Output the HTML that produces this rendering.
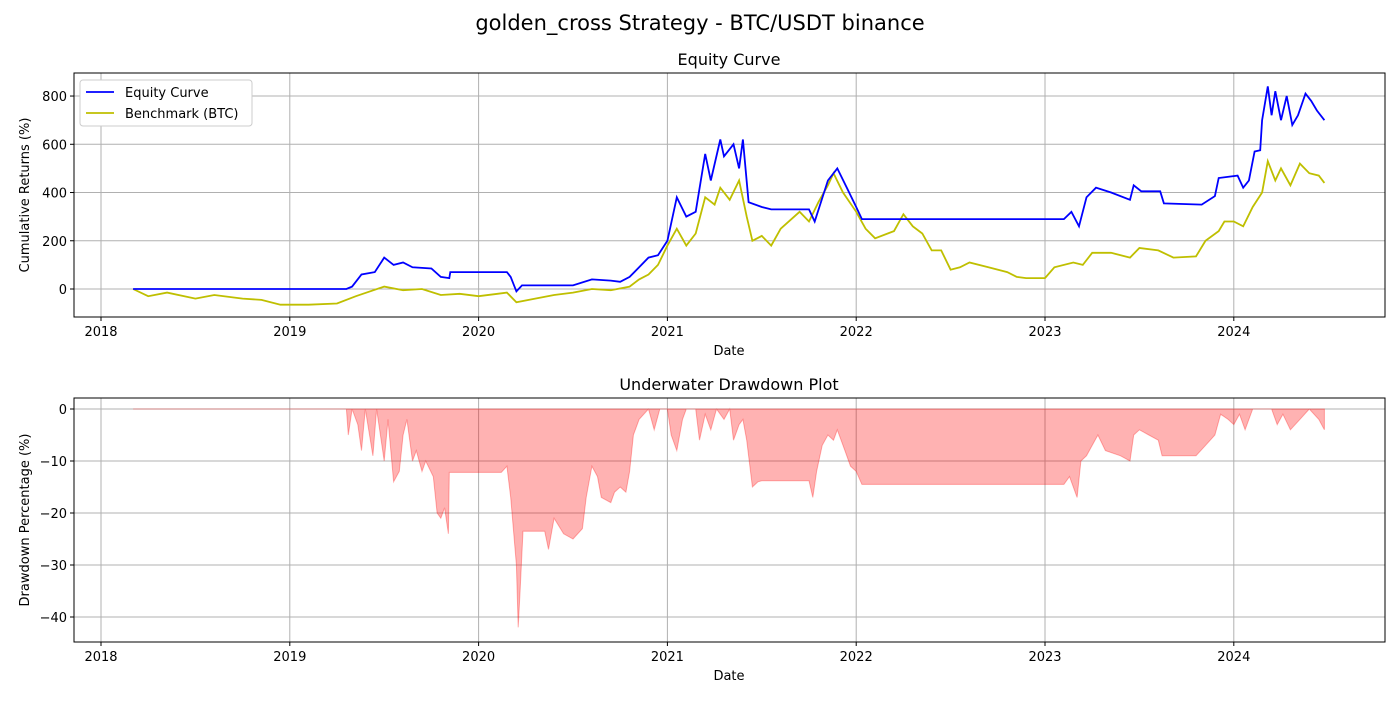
<!DOCTYPE html>
<html><head><meta charset="utf-8"><style>
body{margin:0;background:#fff;}
svg text{font-family:"DejaVu Sans","Liberation Sans",sans-serif;fill:#000;}
</style></head><body>
<svg id="c" width="1400" height="700" xmlns="http://www.w3.org/2000/svg">
<rect width="1400" height="700" fill="#fff"/>
<text x="700" y="30" font-size="21" text-anchor="middle">golden_cross Strategy - BTC/USDT binance</text>
<text x="729" y="65" font-size="16" text-anchor="middle">Equity Curve</text>
<text x="729" y="390" font-size="16" text-anchor="middle">Underwater Drawdown Plot</text>
<g id="g1"></g><g id="g2"></g>
</svg>
<script>
const yearTicks=[2018,2019,2020,2021,2022,2023,2024];
const eqTicks=[0,200,400,600,800];
const ddTicks=[0,-10,-20,-30,-40];
const eqDates=[2018.17,2019.3,2019.33,2019.38,2019.45,2019.5,2019.55,2019.6,2019.65,2019.75,2019.8,2019.845,2019.85,2020.12,2020.15,2020.17,2020.2,2020.23,2020.5,2020.6,2020.7,2020.75,2020.8,2020.85,2020.9,2020.95,2021.0,2021.05,2021.1,2021.15,2021.2,2021.23,2021.28,2021.3,2021.35,2021.38,2021.4,2021.43,2021.5,2021.55,2021.75,2021.78,2021.85,2021.9,2021.95,2022.0,2022.03,2023.1,2023.14,2023.18,2023.22,2023.27,2023.35,2023.45,2023.47,2023.51,2023.61,2023.63,2023.83,2023.9,2023.92,2024.02,2024.05,2024.08,2024.11,2024.14,2024.15,2024.18,2024.2,2024.22,2024.25,2024.28,2024.31,2024.34,2024.38,2024.41,2024.44,2024.48];
const eqValues=[0,0,10,60,70,130,100,110,90,85,50,45,70,70,70,50,-10,15,15,40,35,30,50,90,130,140,200,380,300,320,560,450,620,550,600,500,620,360,340,330,330,280,450,500,420,340,290,290,320,260,380,420,400,370,430,405,405,355,350,385,460,470,420,450,570,575,700,840,720,820,700,800,680,720,810,780,740,700];
const bmDates=[2018.17,2018.25,2018.35,2018.5,2018.6,2018.75,2018.85,2018.95,2019.1,2019.25,2019.35,2019.5,2019.6,2019.7,2019.8,2019.9,2020.0,2020.1,2020.15,2020.2,2020.3,2020.4,2020.5,2020.6,2020.7,2020.8,2020.85,2020.9,2020.95,2021.0,2021.05,2021.1,2021.15,2021.2,2021.25,2021.28,2021.33,2021.38,2021.42,2021.45,2021.5,2021.55,2021.6,2021.7,2021.75,2021.8,2021.85,2021.88,2021.93,2022.0,2022.05,2022.1,2022.2,2022.25,2022.3,2022.35,2022.4,2022.45,2022.5,2022.55,2022.6,2022.7,2022.8,2022.85,2022.9,2023.0,2023.05,2023.15,2023.2,2023.25,2023.35,2023.45,2023.5,2023.6,2023.68,2023.8,2023.85,2023.92,2023.95,2024.0,2024.05,2024.1,2024.15,2024.18,2024.22,2024.25,2024.3,2024.35,2024.4,2024.45,2024.48];
const bmValues=[0,-30,-15,-40,-25,-40,-45,-65,-65,-60,-30,10,-5,0,-25,-20,-30,-20,-15,-55,-40,-25,-15,0,-5,10,40,60,100,180,250,180,230,380,350,420,370,450,300,200,220,180,250,320,280,360,430,480,400,320,250,210,240,310,260,230,160,160,80,90,110,90,70,50,45,45,90,110,100,150,150,130,170,160,130,135,200,240,280,280,260,340,400,530,450,500,430,520,480,470,440];
const ddDates=[2018.17,2019.3,2019.31,2019.33,2019.36,2019.38,2019.4,2019.44,2019.46,2019.5,2019.52,2019.55,2019.58,2019.6,2019.62,2019.65,2019.67,2019.7,2019.72,2019.76,2019.78,2019.8,2019.82,2019.84,2019.845,2020.12,2020.15,2020.17,2020.2,2020.21,2020.22,2020.235,2020.35,2020.37,2020.4,2020.45,2020.5,2020.55,2020.57,2020.6,2020.63,2020.65,2020.7,2020.72,2020.75,2020.78,2020.8,2020.82,2020.85,2020.9,2020.93,2020.96,2021.0,2021.02,2021.05,2021.08,2021.1,2021.15,2021.17,2021.2,2021.23,2021.26,2021.3,2021.33,2021.35,2021.38,2021.4,2021.42,2021.45,2021.48,2021.5,2021.75,2021.77,2021.79,2021.82,2021.85,2021.88,2021.9,2021.94,2021.97,2022.0,2022.03,2023.1,2023.13,2023.17,2023.19,2023.22,2023.25,2023.28,2023.32,2023.4,2023.45,2023.47,2023.5,2023.55,2023.6,2023.62,2023.8,2023.85,2023.9,2023.93,2023.97,2024.0,2024.03,2024.06,2024.1,2024.13,2024.2,2024.23,2024.26,2024.3,2024.35,2024.4,2024.45,2024.48];
const ddValues=[0,0,-5,0,-3,-8,0,-9,0,-10,-2,-14,-12,-5,-2,-10,-8,-12,-10,-13,-20,-21,-19,-24,-12.2,-12.2,-11,-17,-30,-42,-35,-23.5,-23.5,-27,-21,-24,-25,-23,-17,-11,-13,-17,-18,-16,-15,-16,-12,-5,-2,0,-4,0,0,-5,-8,-2,0,0,-6,-1,-4,0,-2,0,-6,-3,-2,-6,-15,-14,-13.8,-13.8,-17,-12,-7,-5,-6,-4,-8,-11,-12,-14.5,-14.5,-13,-17,-10,-9,-7,-5,-8,-9,-10,-5,-4,-5,-6,-9,-9,-7,-5,-1,-2,-3,-1,-4,0,0,0,-3,-1,-4,-2,0,-2,-4];

const NS='http://www.w3.org/2000/svg';
const L=74,R=1385;
const xs=d=>101+(d-2018)*188.8;
function mk(tag,attrs,parent){const e=document.createElementNS(NS,tag);for(const k in attrs)e.setAttribute(k,attrs[k]);parent.appendChild(e);return e;}
function axes(g,top,bot,ys,yTicks,ylabel,prefix){
  yTicks.forEach(t=>{const y=ys(t);
    const gl=mk('line',{x1:L,x2:R,y1:y,y2:y,stroke:'#b0b0b0','stroke-width':1},g);
    
    
    mk('line',{x1:L-4,x2:L,y1:y,y2:y,stroke:'#000'},g);
    const tx=mk('text',{x:L-7,y:y+5,'font-size':13,'text-anchor':'end'},g);tx.textContent=String(t).replace('-','\u2212');
    
    
  });
  yearTicks.forEach(t=>{const x=xs(t);
    const gl=mk('line',{x1:x,x2:x,y1:top,y2:bot,stroke:'#b0b0b0','stroke-width':1},g);
    
    
    mk('line',{x1:x,x2:x,y1:bot,y2:bot+4,stroke:'#000'},g);
    const tx=mk('text',{x:x,y:bot+19,'font-size':13,'text-anchor':'middle'},g);tx.textContent=t;
    
    
  });
  const xl=mk('text',{x:729,y:bot+38,'font-size':13,'text-anchor':'middle'},g);xl.textContent='Date';
  
  
  const cy=(top+bot)/2;
  const yl=mk('text',{x:29,y:cy,'font-size':13,'text-anchor':'middle',transform:`rotate(-90 29 ${cy})`},g);yl.textContent=ylabel;
  
  
}
function frame(g,top,bot,prefix){const f=mk('rect',{x:L,y:top,width:R-L,height:bot-top,fill:'none',stroke:'#000','stroke-width':1},g);
  
  }
function pts(ds,vs,ys){return ds.map((d,i)=>xs(d).toFixed(1)+','+ys(vs[i]).toFixed(1)).join(' ');}

// top
const g1=document.getElementById('g1');
const ys1=v=>289-v*0.2412;
axes(g1,73,317,ys1,eqTicks,'Cumulative Returns (%)','equity');
const bl=mk('polyline',{points:pts(bmDates,bmValues,ys1),fill:'none',stroke:'#bfbf00','stroke-width':1.8},g1);


const el=mk('polyline',{points:pts(eqDates,eqValues,ys1),fill:'none',stroke:'#0000ff','stroke-width':1.8},g1);


frame(g1,73,317,'equity');
const lg=mk('g',{},g1);


mk('rect',{x:80,y:80,width:172,height:46,rx:3,fill:'#fff',stroke:'#ccc'},lg);
mk('line',{x1:86,x2:114,y1:92,y2:92,stroke:'#0000ff','stroke-width':1.8},lg);
const t1=mk('text',{x:125,y:97,'font-size':13},lg);t1.textContent='Equity Curve';


mk('line',{x1:86,x2:114,y1:113,y2:113,stroke:'#bfbf00','stroke-width':1.8},lg);
const t2=mk('text',{x:125,y:118,'font-size':13},lg);t2.textContent='Benchmark (BTC)';



// bottom
const g2=document.getElementById('g2');
const ys2=v=>409-v*5.2;
axes(g2,398,642,ys2,ddTicks,'Drawdown Percentage (%)','drawdown');
const area=pts(ddDates,ddValues,ys2)+' '+xs(ddDates[ddDates.length-1]).toFixed(1)+','+ys2(0)+' '+xs(ddDates[0]).toFixed(1)+','+ys2(0);
const dd=mk('polygon',{points:area,fill:'#ff0000','fill-opacity':0.3,stroke:'#ff0000','stroke-opacity':0.3,'stroke-width':1},g2);


frame(g2,398,642,'drawdown');
</script>
</body></html>
